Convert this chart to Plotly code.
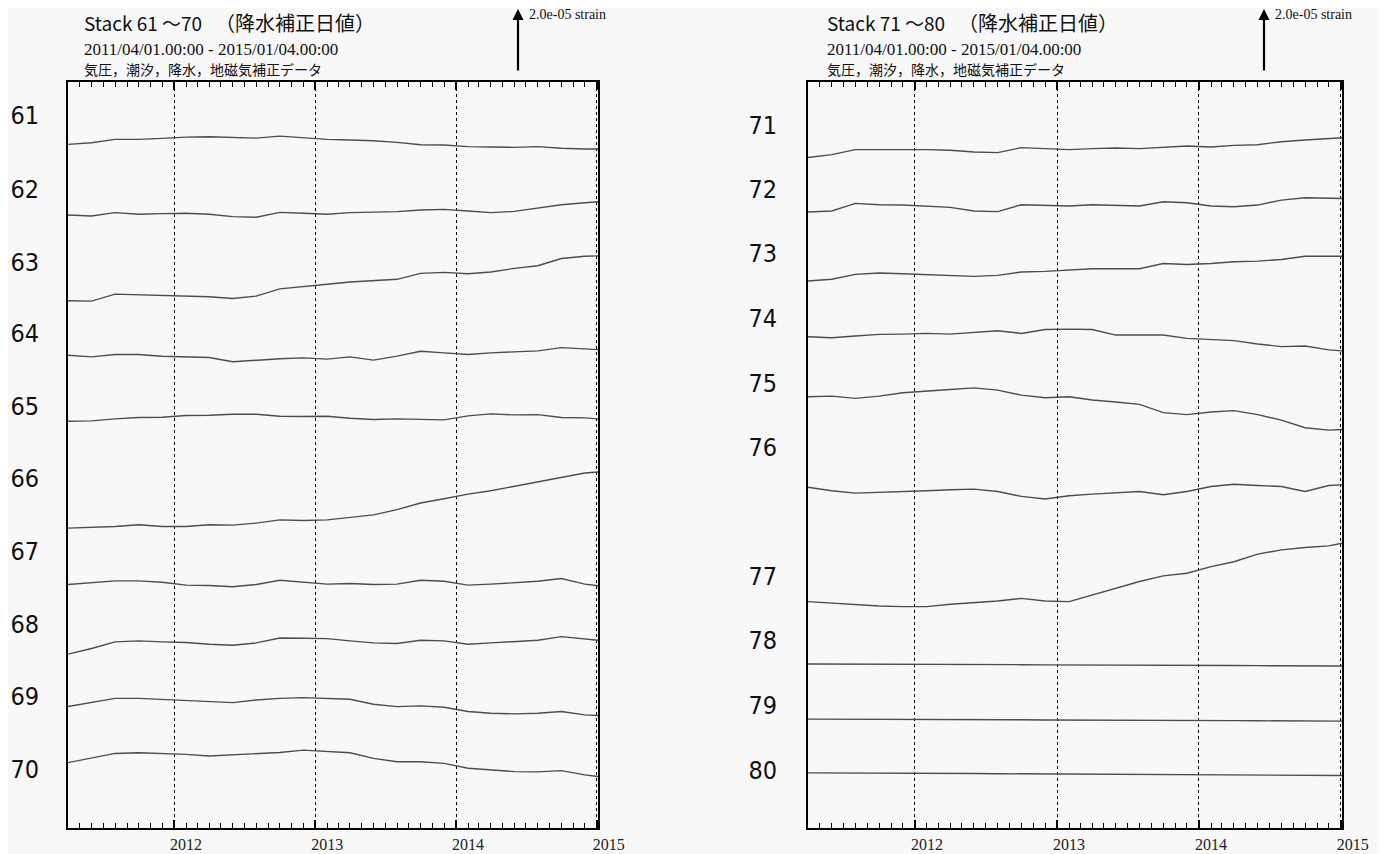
import plotly.graph_objects as go

# ---------------- data ----------------
dates = ["2011-04-01", "2011-06-01", "2011-08-01", "2011-10-01", "2011-12-01",
         "2012-02-01", "2012-04-01", "2012-06-01", "2012-08-01", "2012-10-01", "2012-12-01",
         "2013-02-01", "2013-04-01", "2013-06-01", "2013-08-01", "2013-10-01", "2013-12-01",
         "2014-02-01", "2014-04-01", "2014-06-01", "2014-08-01", "2014-10-01", "2014-12-01",
         "2015-01-04"]
x_range = ["2011-04-01", "2015-01-04"]
year_ticks = ["2012", "2013", "2014", "2015"]

# strain in units of 1e-6; scale bar = 2.0e-05 strain
scale_bar = 20.0
y_span = 226.1

# ---- Stack 61-70 ----
names_left = ["61", "62", "63", "64", "65", "66", "67", "68", "69", "70"]
base_left = [207.2, 185.8, 159.8, 143.3, 123.3, 90.9, 73.8, 52.7, 36.8, 19.8]
label_y_left = [216.1, 193.6, 171.5, 150.0, 127.9, 106.1, 84.0, 61.8, 40.0, 17.9]
s61 = [0, 0.5, 1.5, 1.5, 1.8, 2.2, 2.3, 2.1, 1.9, 2.5, 2.0, 1.5, 1.3, 1.1, 0.6, -0.1, -0.2, -0.7, -0.8, -0.9, -0.7, -1.2, -1.4, -1.4]
s62 = [0, -0.3, 0.7, 0.2, 0.4, 0.5, 0.2, -0.5, -0.7, 0.8, 0.5, 0.2, 0.7, 0.9, 1.0, 1.5, 1.7, 1.2, 0.7, 1.1, 2.2, 3.1, 3.7, 4.0]
s63 = [0, -0.1, 2.0, 1.8, 1.7, 1.6, 1.2, 0.7, 1.4, 3.6, 4.2, 5.0, 5.7, 6.0, 6.5, 8.3, 8.6, 8.2, 8.7, 9.8, 10.6, 12.8, 13.5, 13.6]
s64 = [0, -0.5, 0.2, 0.2, -0.3, -0.5, -0.7, -2.0, -1.5, -1.1, -0.8, -1.2, -0.5, -1.5, -0.3, 1.2, 0.7, 0.2, 0.7, 1.1, 1.3, 2.3, 2.0, 1.7]
s65 = [0, 0.1, 0.7, 1.1, 1.2, 1.7, 1.8, 2.1, 2.1, 1.5, 1.4, 1.5, 0.9, 0.5, 0.7, 0.5, 0.4, 1.6, 2.2, 1.9, 2.0, 1.1, 1.0, 0.7]
s66 = [0, 0.2, 0.5, 1.0, 0.5, 0.5, 1.0, 0.9, 1.5, 2.5, 2.3, 2.5, 3.2, 4.0, 5.6, 7.6, 8.9, 10.3, 11.3, 12.7, 14.1, 15.4, 16.7, 17.0]
s67 = [0, 0.5, 1.1, 1.1, 0.7, -0.2, -0.3, -0.7, 0.0, 1.3, 0.7, 0.1, 0.3, 0.0, 0.1, 1.3, 1.0, -0.2, 0.1, 0.6, 1.0, 1.8, 0.1, -0.4]
s68 = [0, 1.7, 3.7, 4.0, 3.7, 3.5, 3.0, 2.7, 3.4, 4.9, 4.8, 4.7, 4.0, 3.4, 3.2, 4.2, 4.0, 3.0, 3.4, 3.9, 4.2, 5.3, 4.5, 4.2]
s69 = [0, 1.2, 2.5, 2.5, 2.2, 2.0, 1.5, 1.2, 2.0, 2.5, 2.7, 2.5, 2.2, 0.7, 0.0, 0.2, -0.2, -1.5, -2.0, -2.2, -2.0, -1.5, -2.5, -2.7]
s70 = [0, 1.3, 2.8, 3.0, 2.8, 2.5, 2.0, 2.3, 2.8, 3.1, 3.8, 3.3, 3.0, 1.3, 0.3, 0.3, -0.2, -1.7, -2.2, -2.7, -2.8, -2.4, -3.7, -4.2]
series_left = [s61, s62, s63, s64, s65, s66, s67, s68, s69, s70]

# ---- Stack 71-80 ----
names_right = ["71", "72", "73", "74", "75", "76", "77", "78", "79", "80"]
base_right = [203.2, 186.7, 165.8, 148.9, 130.7, 103.3, 68.6, 49.7, 33.0, 16.7]
label_y_right = [213.0, 193.6, 174.2, 154.5, 134.8, 115.5, 76.4, 57.0, 37.3, 17.6]
s71 = [0, 0.9, 2.4, 2.4, 2.6, 2.4, 2.2, 1.7, 1.5, 3.0, 2.7, 2.4, 2.7, 2.9, 2.7, 3.2, 3.5, 3.2, 3.7, 3.9, 4.8, 5.3, 5.8, 6.0]
s72 = [0, 0.3, 2.6, 2.2, 2.1, 1.8, 1.4, 0.3, 0.1, 2.2, 2.1, 1.8, 2.2, 2.1, 1.8, 3.1, 2.8, 1.8, 1.6, 2.1, 3.6, 4.3, 4.2, 4.1]
s73 = [0, 0.5, 2.0, 2.4, 2.2, 1.9, 1.6, 1.4, 1.7, 2.7, 2.9, 3.2, 3.7, 3.7, 3.7, 5.3, 5.0, 5.3, 5.8, 6.0, 6.5, 7.5, 7.6, 7.5]
s74 = [0, -0.3, 0.2, 0.7, 0.8, 1.0, 0.8, 1.2, 1.8, 1.0, 2.2, 2.3, 2.2, 0.5, 0.5, 0.5, -0.5, -0.8, -1.2, -2.2, -3.0, -2.8, -4.0, -4.3]
s75 = [0, 0.2, -0.5, 0.2, 1.2, 1.8, 2.2, 2.7, 2.0, 0.5, -0.3, 0.0, -1.0, -1.6, -2.3, -4.8, -5.4, -4.6, -4.2, -5.4, -7.1, -9.4, -10.1, -9.9]
s76 = [0, -1.1, -1.8, -1.6, -1.5, -1.1, -0.8, -0.6, -1.3, -2.8, -3.6, -2.6, -2.1, -1.8, -1.3, -2.3, -1.3, 0.2, 0.9, 0.5, 0.2, -1.3, 0.5, 0.7]
s77 = [0, -0.5, -0.8, -1.3, -1.5, -1.5, -0.8, -0.3, 0.2, 1.0, 0.2, 0.0, 2.0, 4.0, 6.1, 7.8, 8.6, 10.6, 12.1, 14.4, 15.7, 16.4, 16.9, 17.7]
s78 = [0, 0, 0, -0.05, -0.05, -0.1, -0.1, -0.15, -0.2, -0.2, -0.25, -0.25, -0.3, -0.3, -0.35, -0.4, -0.4, -0.45, -0.45, -0.5, -0.5, -0.55, -0.6, -0.6]
s79 = [0, 0, 0, -0.05, -0.05, -0.1, -0.1, -0.15, -0.2, -0.2, -0.25, -0.25, -0.3, -0.3, -0.35, -0.4, -0.4, -0.45, -0.45, -0.5, -0.5, -0.55, -0.6, -0.6]
s80 = [0, 0, -0.05, -0.1, -0.1, -0.15, -0.2, -0.2, -0.25, -0.3, -0.3, -0.35, -0.4, -0.4, -0.45, -0.5, -0.5, -0.55, -0.6, -0.65, -0.7, -0.7, -0.75, -0.8]
series_right = [s71, s72, s73, s74, s75, s76, s77, s78, s79, s80]

title_left = "Stack 61 ～70"
title_right = "Stack 71 ～80"
title_jp = "（降水補正日値）"
period = "2011/04/01.00:00 - 2015/01/04.00:00"
note = "気圧，潮汐，降水，地磁気補正データ"
scale_text = "2.0e-05 strain"

# ---------------- layout constants ----------------
OFF = 8  # page body margin in the browser
W, H = 1386 - OFF, 854 - OFF


def px(v):
    return (v - OFF) / W


def py(v):
    return 1 - (v - OFF) / H


plot_top, plot_bot = 82, 828
dom_y = [py(plot_bot), py(plot_top)]
dom_x_left = [px(68), px(598)]
dom_x_right = [px(808), px(1342)]
line_col = "#4d4d4d"
bg = "#f8f8f8"
label_font = dict(family="Liberation Sans Narrow, DejaVu Sans Condensed, Arial Narrow, sans-serif",
                  size=25, color="#111111")
serif = "Liberation Serif, Times New Roman, serif"
jp = "Noto Sans CJK JP, sans-serif"

fig = go.Figure()
for name, base, s in zip(names_left, base_left, series_left):
    fig.add_trace(go.Scatter(x=dates, y=[base + v for v in s], mode="lines", name=name,
                             line=dict(color=line_col, width=1.4), xaxis="x", yaxis="y",
                             showlegend=False))
for name, base, s in zip(names_right, base_right, series_right):
    fig.add_trace(go.Scatter(x=dates, y=[base + v for v in s], mode="lines", name=name,
                             line=dict(color=line_col, width=1.4), xaxis="x2", yaxis="y2",
                             showlegend=False))

minor = dict(dtick="M1", tick0="2011-01-01", ticks="inside", ticklen=5,
             tickwidth=1, tickcolor="black", showgrid=False)


def xaxis(domain, anchor):
    return dict(domain=domain, anchor=anchor, type="date", range=x_range, automargin=False,
                tickvals=[y + "-01-01" for y in year_ticks], ticktext=year_ticks,
                ticks="inside", ticklen=8, tickwidth=1.5, tickcolor="black",
                showgrid=True, gridcolor="black", gridwidth=1, griddash="3px,3px",
                showline=True, linecolor="black", linewidth=2, mirror="allticks",
                zeroline=False, ticklabelshift=12, ticklabelstandoff=1,
                tickfont=dict(family=serif, size=16, color="#222222"), minor=minor)


def xaxis_top(domain, anchor, over):
    return dict(domain=domain, anchor=anchor, overlaying=over, side="top", type="date",
                range=x_range, automargin=False, tickvals=[y + "-01-01" for y in year_ticks],
                ticks="inside", ticklen=8, tickwidth=1.5, tickcolor="black",
                showticklabels=False, showgrid=False, showline=False, zeroline=False,
                minor=minor)


def yaxis(domain, anchor, tv, tt, standoff):
    return dict(domain=domain, anchor=anchor, range=[0, y_span], tickvals=tv, ticktext=tt,
                automargin=False, ticks="", showgrid=False, zeroline=False, showline=True,
                linecolor="black", linewidth=2, mirror=True, tickfont=label_font,
                ticklabelstandoff=standoff)


plot_h = plot_bot - plot_top
arrow_px = scale_bar * plot_h / y_span

annotations = []
for xs, ttl, ax_x in [(82, title_left, 518), (825, title_right, 1264)]:
    annotations += [
        dict(xref="paper", yref="paper", x=px(xs), y=py(23), text=ttl, showarrow=False,
             xanchor="left", yanchor="middle", font=dict(family=jp, size=19, color="#111111")),
        dict(xref="paper", yref="paper", x=px(xs + 131), y=py(23), text=title_jp,
             showarrow=False, xanchor="left", yanchor="middle",
             font=dict(family=jp, size=20, color="#111111")),
        dict(xref="paper", yref="paper", x=px(xs), y=py(49), text=period, showarrow=False,
             xanchor="left", yanchor="middle", font=dict(family=serif, size=17, color="#111111")),
        dict(xref="paper", yref="paper", x=px(xs), y=py(69), text=note, showarrow=False,
             xanchor="left", yanchor="middle", font=dict(family=jp, size=14, color="#111111")),
        dict(xref="paper", yref="paper", x=px(ax_x), y=py(9), ax=0, ay=arrow_px - 3,
             text="", showarrow=True, arrowhead=2, arrowsize=1, arrowwidth=2.2,
             arrowcolor="black"),
        dict(xref="paper", yref="paper", x=px(ax_x + 9), y=py(15), text=scale_text,
             showarrow=False, xanchor="left", yanchor="middle",
             font=dict(family=serif, size=14, color="#111111")),
    ]

fig.update_layout(
    width=W, height=H, margin=dict(l=0, r=0, t=0, b=0, autoexpand=False),
    paper_bgcolor=bg, plot_bgcolor=bg, showlegend=False,
    xaxis=xaxis(dom_x_left, "y"),
    yaxis=yaxis(dom_y, "x", label_y_left, names_left, 22),
    xaxis2=xaxis(dom_x_right, "y2"),
    yaxis2=yaxis(dom_y, "x2", label_y_right, names_right, 24),
    xaxis3=xaxis_top(dom_x_left, "y", "x"),
    xaxis4=xaxis_top(dom_x_right, "y2", "x2"),
    annotations=annotations,
)

fig.write_html("out.html")
